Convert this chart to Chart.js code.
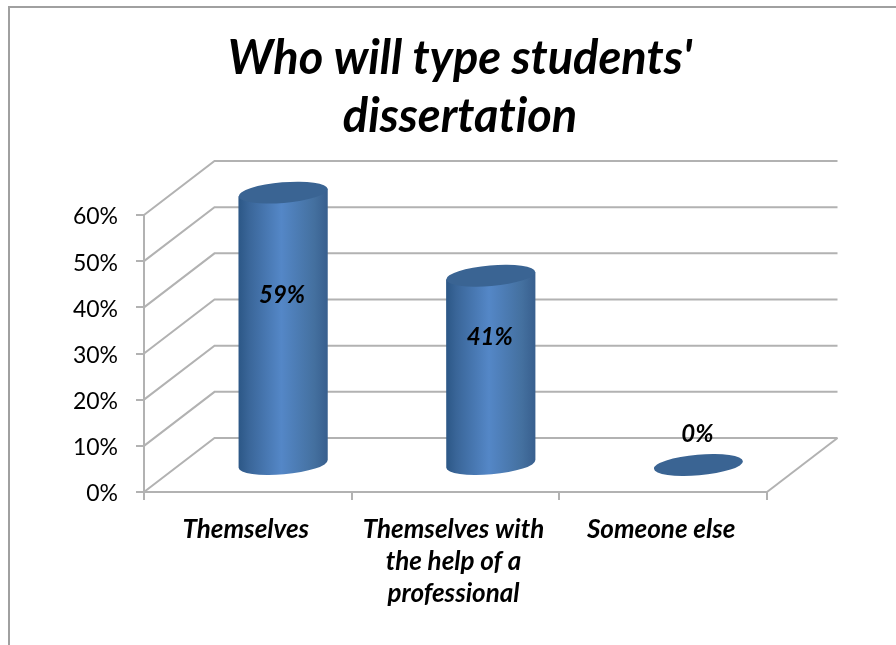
<!DOCTYPE html>
<html>
<head>
<meta charset="utf-8">
<title>Who will type students' dissertation</title>
<script src="https://cdn.jsdelivr.net/npm/chart.js@4"></script>
<style>
    html, body { margin: 0; padding: 0; background: #fff; overflow: hidden; }
    #wrap { position: relative; width: 896px; height: 645px; }
    #frame { position: absolute; left: 8px; top: 6px; right: 0; bottom: 0;
             border-left: 2px solid #a0a0a0; border-top: 2px solid #a0a0a0; }
</style>
</head>
<body>
<div id="wrap">
    <canvas id="chart" width="896" height="645"></canvas>
    <div id="frame"></div>
</div>
<script>
// Chart data
const titleLines = ['Who will type students\'', 'dissertation'];
const categories = [
    ['Themselves'],
    ['Themselves with', 'the help of a', 'professional'],
    ['Someone else']
];
const shares = [59, 41, 0];
const yTicks = [0, 10, 20, 30, 40, 50, 60];

// Depth of the fake 3D box, in pixels
const DEPTH_X = 70.5;
const DEPTH_Y = 54;
const GRID_COLOR = '#b2b2b2';
const FONT = 'Lato, "Open Sans", sans-serif';

/**
 * Back wall, side wall and floor lines, taken from the y scale ticks
 */
const wallPlugin = {
    id: 'wall',
    beforeDraw(chart) {
        // Lato's "ti" ligature is not in the original lettering
        chart.ctx.textRendering = 'optimizeSpeed';
    },
    beforeDatasetsDraw(chart) {
        const { ctx, chartArea, scales } = chart;
        ctx.save();
        ctx.strokeStyle = GRID_COLOR;
        ctx.lineWidth = 2;
        yTicks.forEach(tick => {
            const y = scales.y.getPixelForValue(tick);
            ctx.beginPath();
            ctx.moveTo(chartArea.left, y);
            ctx.lineTo(chartArea.left + DEPTH_X, y - DEPTH_Y);
            ctx.lineTo(chartArea.right + DEPTH_X, y - DEPTH_Y);
            ctx.stroke();
        });
        // Right edge of the floor
        const y0 = scales.y.getPixelForValue(0);
        ctx.beginPath();
        ctx.moveTo(chartArea.right, y0);
        ctx.lineTo(chartArea.right + DEPTH_X, y0 - DEPTH_Y);
        ctx.stroke();
        ctx.restore();
    }
};

/**
 * Draws each bar as a cylinder standing halfway into the box
 */
const cylinderPlugin = {
    id: 'cylinders',
    afterDatasetsDraw(chart) {
        const { ctx, scales } = chart;
        const tilt = -0.085;
        const ry = 10.3;
        chart.getDatasetMeta(0).data.forEach((bar, i) => {
            const cx = bar.x + DEPTH_X / 2;
            const top = bar.y - DEPTH_Y / 2;
            const base = bar.base - DEPTH_Y / 2;
            const rx = bar.width / 2;
            const dy = Math.sin(tilt) * rx;

            ctx.save();
            if (shares[i] > 0) {
                const grad = ctx.createLinearGradient(cx - rx, 0, cx + rx, 0);
                grad.addColorStop(0, '#2c5786');
                grad.addColorStop(0.12, '#3a6699');
                grad.addColorStop(0.48, '#5487c7');
                grad.addColorStop(0.85, '#44709f');
                grad.addColorStop(1, '#385f8e');
                ctx.fillStyle = grad;
                ctx.beginPath();
                ctx.moveTo(cx - rx, top - dy);
                ctx.lineTo(cx + rx, top + dy);
                ctx.lineTo(cx + rx, base + dy);
                ctx.ellipse(cx, base, rx, ry, tilt, 0, Math.PI);
                ctx.closePath();
                ctx.fill();
            }
            ctx.fillStyle = '#3a6493';
            ctx.beginPath();
            ctx.ellipse(cx, top, rx, ry, tilt, 0, Math.PI * 2);
            ctx.fill();

            // Value label
            ctx.fillStyle = '#000';
            ctx.font = 'italic bold 24px ' + FONT;
            ctx.textAlign = 'center';
            ctx.textBaseline = 'middle';
            const labelY = scales.y.getPixelForValue(shares[i] * 0.51) - 58;
            ctx.fillText(shares[i] + '%', cx - 1, labelY);
            ctx.restore();
        });
    }
};

/**
 * The title sits a little right of the canvas centre in the original
 */
const titleShiftPlugin = {
    id: 'titleShift',
    afterLayout(chart) {
        chart.titleBlock.left = 153;
        chart.titleBlock.right = 767;
    }
};

new Chart(document.getElementById('chart').getContext('2d'), {
    type: 'bar',
    data: {
        labels: categories,
        datasets: [{
            data: shares,
            backgroundColor: 'rgba(0,0,0,0)',
            categoryPercentage: 1,
            barPercentage: 0.43
        }]
    },
    options: {
        responsive: false,
        animation: false,
        layout: { padding: { right: 129 } },
        plugins: {
            legend: { display: false },
            tooltip: { enabled: false },
            title: {
                display: true,
                text: titleLines,
                color: '#000',
                font: { family: FONT, size: 47, weight: 'bold', style: 'italic', lineHeight: 58 / 47 },
                padding: { top: 30, bottom: 69 }
            }
        },
        scales: {
            x: {
                afterFit(scale) { scale.height = 153; },
                grid: { color: GRID_COLOR, lineWidth: 2, drawOnChartArea: false, tickLength: 8 },
                border: { color: GRID_COLOR, width: 2 },
                ticks: {
                    color: '#000',
                    font: { family: FONT, size: 26, weight: 'bold', style: 'italic', lineHeight: 32 / 26 },
                    maxRotation: 0,
                    autoSkip: false,
                    labelOffset: -2,
                    padding: 14
                }
            },
            y: {
                min: 0,
                max: 60,
                afterFit(scale) { scale.width = 144; },
                grid: { color: GRID_COLOR, lineWidth: 2, drawOnChartArea: false, tickLength: 8 },
                border: { color: GRID_COLOR, width: 2 },
                ticks: {
                    stepSize: 10,
                    color: '#000',
                    font: { family: FONT, size: 23 },
                    padding: 18,
                    labelOffset: 2,
                    callback: value => value + '%'
                }
            }
        }
    },
    plugins: [wallPlugin, cylinderPlugin, titleShiftPlugin]
});
</script>
</body>
</html>
